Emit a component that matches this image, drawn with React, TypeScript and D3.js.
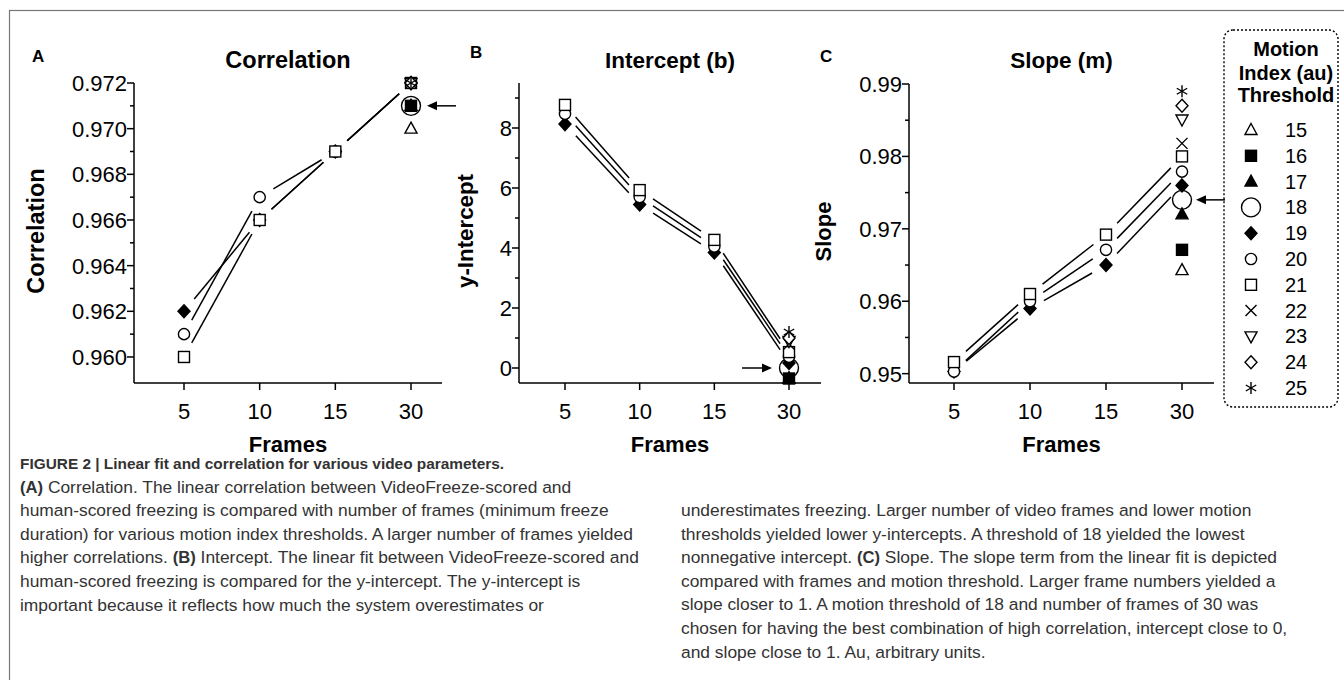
import React from 'react';
import * as d3 from 'd3';

// ---------- DATA ----------
const frames = ['5', '10', '15', '30'];
const thresholds = [15, 16, 17, 18, 19, 20, 21, 22, 23, 24, 25];
const lineThresholds = [19, 20, 21];
const legendTitle = ['Motion', 'Index (au)', 'Threshold'];

// Panel A: correlation (frames 5,10,15 for thresholds 19,20,21)
const corr19 = [0.962, 0.966, 0.969];
const corr20 = [0.961, 0.967, 0.969];
const corr21 = [0.960, 0.966, 0.969];
// frame 30, thresholds 15..25
const corrAt30 = [0.970, 0.971, 0.971, 0.971, 0.972, 0.972, 0.972, 0.972, 0.972, 0.972, 0.972];
const corrTicks = [0.960, 0.962, 0.964, 0.966, 0.968, 0.970, 0.972];

// Panel B: intercept
const int19 = [8.13, 5.45, 3.85];
const int20 = [8.47, 5.7, 4.05];
const int21 = [8.77, 5.93, 4.27];
const intAt30 = [-0.35, -0.35, -0.35, 0.0, 0.17, 0.37, 0.53, 0.8, 0.9, 1.0, 1.2];
const intTicks = [0, 2, 4, 6, 8];

// Panel C: slope
const slope19 = [0.9503, 0.959, 0.965];
const slope20 = [0.9503, 0.960, 0.9671];
const slope21 = [0.9516, 0.961, 0.9692];
const slopeAt30 = [0.9643, 0.9671, 0.972, 0.974, 0.976, 0.9779, 0.980, 0.9818, 0.9851, 0.987, 0.989];
const slopeTicks = [0.95, 0.96, 0.97, 0.98, 0.99];

const captionLeft: [string, boolean][][] = [
  [['FIGURE 2 | Linear fit and correlation for various video parameters.', true]],
  [['(A)', true], [' Correlation. The linear correlation between VideoFreeze-scored and', false]],
  [['human-scored freezing is compared with number of frames (minimum freeze', false]],
  [['duration) for various motion index thresholds. A larger number of frames yielded', false]],
  [['higher correlations. ', false], ['(B)', true], [' Intercept. The linear fit between VideoFreeze-scored and', false]],
  [['human-scored freezing is compared for the y-intercept. The y-intercept is', false]],
  [['important because it reflects how much the system overestimates or', false]],
];
const captionRight: [string, boolean][][] = [
  [['underestimates freezing. Larger number of video frames and lower motion', false]],
  [['thresholds yielded lower y-intercepts. A threshold of 18 yielded the lowest', false]],
  [['nonnegative intercept. ', false], ['(C)', true], [' Slope. The slope term from the linear fit is depicted', false]],
  [['compared with frames and motion threshold. Larger frame numbers yielded a', false]],
  [['slope closer to 1. A motion threshold of 18 and number of frames of 30 was', false]],
  [['chosen for having the best combination of high correlation, intercept close to 0,', false]],
  [['and slope close to 1. Au, arbitrary units.', false]],
];

// ---------- STYLE ----------
const FONT = '"Liberation Sans", Arial, Helvetica, sans-serif';
const drawOrder = [18, 15, 17, 16, 19, 20, 21, 22, 23, 24, 25];

function Marker({ t, x, y }: { t: number; x: number; y: number }) {
  const sw = 1.4;
  const s = 5.5;
  const common = { stroke: '#000', strokeWidth: sw };
  switch (t) {
    case 15:
      return <polygon points={`${x},${y - 6.5} ${x + 6},${y + 4.5} ${x - 6},${y + 4.5}`} fill="#fff" {...common} />;
    case 16:
      return <rect x={x - s} y={y - s} width={2 * s} height={2 * s} fill="#000" {...common} />;
    case 17:
      return <polygon points={`${x},${y - 6.5} ${x + 6},${y + 4.5} ${x - 6},${y + 4.5}`} fill="#000" {...common} />;
    case 18:
      return <circle cx={x} cy={y} r={9.5} fill="#fff" {...common} />;
    case 19:
      return <polygon points={`${x},${y - 6.5} ${x + 6},${y} ${x},${y + 6.5} ${x - 6},${y}`} fill="#000" {...common} />;
    case 20:
      return <circle cx={x} cy={y} r={5.6} fill="#fff" {...common} />;
    case 21:
      return <rect x={x - s} y={y - s} width={2 * s} height={2 * s} fill="#fff" {...common} />;
    case 22:
      return (
        <g {...common}>
          <line x1={x - s} y1={y - s} x2={x + s} y2={y + s} />
          <line x1={x - s} y1={y + s} x2={x + s} y2={y - s} />
        </g>
      );
    case 23:
      return <polygon points={`${x},${y + 6.5} ${x + 6},${y - 4.5} ${x - 6},${y - 4.5}`} fill="#fff" {...common} />;
    case 24:
      return <polygon points={`${x},${y - 6.5} ${x + 6},${y} ${x},${y + 6.5} ${x - 6},${y}`} fill="#fff" {...common} />;
    case 25:
      return (
        <g {...common}>
          <line x1={x} y1={y - 6} x2={x} y2={y + 6} />
          <line x1={x - 5.2} y1={y - 3} x2={x + 5.2} y2={y + 3} />
          <line x1={x - 5.2} y1={y + 3} x2={x + 5.2} y2={y - 3} />
        </g>
      );
    default:
      return null;
  }
}

type PanelCfg = {
  letter: string;
  title: string;
  titleSize: number;
  yTitle: string;
  yTitleSize: number;
  left: number;
  top: number;
  bottom: number;
  firstX: number;
  lastX: number;
  right: number;
  yDomain: [number, number];
  ticks: number[];
  minor: number[];
  fmt: (v: number) => string;
  series: number[][];
  at30: number[];
  arrow: { value: number; dir: 'left' | 'right'; offset: number };
  letterPos: [number, number];
  yTitleX: number;
};

function Panel({ cfg }: { cfg: PanelCfg }) {
  const x = d3.scalePoint<string>().domain(frames).range([cfg.firstX, cfg.lastX]);
  const y = d3.scaleLinear().domain(cfg.yDomain).range([cfg.bottom, cfg.top]);
  const gap = 16;
  const segs: { x1: number; y1: number; x2: number; y2: number }[] = [];
  cfg.series.forEach((vals, si) => {
    const t = lineThresholds[si];
    const full = [...vals, cfg.at30[thresholds.indexOf(t)]];
    for (let i = 0; i < full.length - 1; i++) {
      const ax = x(frames[i])!, ay = y(full[i]);
      const bx = x(frames[i + 1])!, by = y(full[i + 1]);
      const dx = bx - ax, dy = by - ay;
      const len = Math.hypot(dx, dy);
      const ux = dx / len, uy = dy / len;
      segs.push({ x1: ax + ux * gap, y1: ay + uy * gap, x2: bx - ux * gap, y2: by - uy * gap });
    }
  });
  const points: { t: number; f: string; v: number }[] = [];
  cfg.series.forEach((vals, si) => vals.forEach((v, i) => points.push({ t: lineThresholds[si], f: frames[i], v })));
  cfg.at30.forEach((v, i) => points.push({ t: thresholds[i], f: '30', v }));
  points.sort((a, b) => drawOrder.indexOf(a.t) - drawOrder.indexOf(b.t));

  const ax30 = x('30')!;
  const ay = y(cfg.arrow.value);
  let arrow;
  if (cfg.arrow.dir === 'left') {
    const tip = ax30 + cfg.arrow.offset;
    arrow = (
      <g>
        <line x1={tip + 6} y1={ay} x2={tip + 29} y2={ay} stroke="#000" strokeWidth={1.5} />
        <polygon points={`${tip},${ay} ${tip + 10},${ay - 4.5} ${tip + 10},${ay + 4.5}`} fill="#000" />
      </g>
    );
  } else {
    const tip = ax30 - cfg.arrow.offset;
    arrow = (
      <g>
        <line x1={tip - 30} y1={ay} x2={tip - 6} y2={ay} stroke="#000" strokeWidth={1.5} />
        <polygon points={`${tip},${ay} ${tip - 10},${ay - 4.5} ${tip - 10},${ay + 4.5}`} fill="#000" />
      </g>
    );
  }
  const midY = (cfg.top + cfg.bottom) / 2 - 2;
  const titleX = (cfg.left + cfg.right) / 2;
  return (
    <g fontFamily={FONT}>
      <text x={cfg.letterPos[0]} y={cfg.letterPos[1]} fontSize={17} fontWeight="bold">{cfg.letter}</text>
      <text x={titleX} y={68} fontSize={cfg.titleSize} fontWeight="bold" textAnchor="middle">{cfg.title}</text>
      <text transform={`translate(${cfg.yTitleX},${midY}) rotate(-90)`} fontSize={cfg.yTitleSize} fontWeight="bold" textAnchor="middle">{cfg.yTitle}</text>
      <text x={(cfg.left + cfg.right) / 2} y={452} fontSize={22} fontWeight="bold" textAnchor="middle">Frames</text>
      {/* axes */}
      <line x1={cfg.left} y1={cfg.top} x2={cfg.left} y2={cfg.bottom} stroke="#000" strokeWidth={1.5} />
      <line x1={cfg.left} y1={cfg.bottom} x2={cfg.right} y2={cfg.bottom} stroke="#000" strokeWidth={1.5} />
      {cfg.ticks.map((v) => (
        <g key={'t' + v}>
          <line x1={cfg.left - 7} y1={y(v)} x2={cfg.left} y2={y(v)} stroke="#000" strokeWidth={1.5} />
          <text x={cfg.left - 7} y={y(v) + 8} fontSize={22} textAnchor="end">{cfg.fmt(v)}</text>
        </g>
      ))}
      {cfg.minor.map((v) => (
        <line key={'m' + v} x1={cfg.left - 4} y1={y(v)} x2={cfg.left} y2={y(v)} stroke="#000" strokeWidth={1.5} />
      ))}
      {frames.map((f) => (
        <g key={'x' + f}>
          <line x1={x(f)!} y1={cfg.bottom} x2={x(f)!} y2={cfg.bottom + 7} stroke="#000" strokeWidth={1.5} />
          <text x={x(f)!} y={419} fontSize={22} textAnchor="middle">{f}</text>
        </g>
      ))}
      {segs.map((s, i) => (
        <line key={'s' + i} x1={s.x1} y1={s.y1} x2={s.x2} y2={s.y2} stroke="#000" strokeWidth={1.5} />
      ))}
      {points.map((p, i) => (
        <Marker key={'p' + i} t={p.t} x={x(p.f)!} y={y(p.v)} />
      ))}
      {arrow}
    </g>
  );
}

const panels: PanelCfg[] = [
  {
    letter: 'A', title: 'Correlation', titleSize: 23.5, yTitle: 'Correlation', yTitleSize: 23.5,
    left: 134, top: 83, bottom: 383, firstX: 184, lastX: 411, right: 442,
    yDomain: [0.95886, 0.972], ticks: corrTicks, minor: [0.961, 0.963, 0.965, 0.967, 0.969, 0.971],
    fmt: (v) => v.toFixed(3), series: [corr19, corr20, corr21], at30: corrAt30,
    arrow: { value: 0.971, dir: 'left', offset: 16 }, letterPos: [32, 62], yTitleX: 44,
  },
  {
    letter: 'B', title: 'Intercept (b)', titleSize: 22.5, yTitle: 'y-Intercept', yTitleSize: 22.3,
    left: 519, top: 83, bottom: 383, firstX: 565, lastX: 789, right: 821,
    yDomain: [-0.5, 9.5], ticks: intTicks, minor: [1, 3, 5, 7, 9],
    fmt: (v) => String(v), series: [int19, int20, int21], at30: intAt30,
    arrow: { value: 0, dir: 'right', offset: 17 }, letterPos: [470, 58], yTitleX: 473,
  },
  {
    letter: 'C', title: 'Slope (m)', titleSize: 22.5, yTitle: 'Slope', yTitleSize: 22,
    left: 909, top: 84, bottom: 383, firstX: 954, lastX: 1182, right: 1214,
    yDomain: [0.94871, 0.99], ticks: slopeTicks, minor: [0.955, 0.965, 0.975, 0.985],
    fmt: (v) => v.toFixed(2), series: [slope19, slope20, slope21], at30: slopeAt30,
    arrow: { value: 0.974, dir: 'left', offset: 14 }, letterPos: [820, 62], yTitleX: 831,
  },
];

function Legend() {
  const rowY = d3.scaleLinear().domain([0, thresholds.length - 1]).range([130, 388]);
  return (
    <g fontFamily={FONT}>
      <rect x={1224} y={30} width={114} height={377} rx={9} fill="none" stroke="#000" strokeWidth={1.4} strokeDasharray="2,2" />
      {legendTitle.map((s, i) => (
        <text key={s} x={1286} y={[56, 80, 102][i]} fontSize={20} fontWeight="bold" textAnchor="middle">{s}</text>
      ))}
      {thresholds.map((t, i) => (
        <g key={t}>
          <Marker t={t} x={1251} y={rowY(i)} />
          <text x={1285} y={rowY(i) + 7} fontSize={20}>{t}</text>
        </g>
      ))}
    </g>
  );
}

function Caption() {
  const lh = 23.6;
  const render = (lines: [string, boolean][][], x0: number, y0: number, first: boolean) =>
    lines.map((ln, i) => (
      <text key={i} x={x0} y={y0 + i * lh} fill="#333">
        {ln.map(([s, b], j) => (
          <tspan key={j} fontWeight={b ? 'bold' : 'normal'} fontSize={b ? (first && i === 0 ? 15.4 : 16.6) : 17.4}>{s}</tspan>
        ))}
      </text>
    ));
  return (
    <g fontFamily={FONT}>
      {render(captionLeft, 20, 469, true)}
      {render(captionRight, 681, 516, false)}
    </g>
  );
}

export default function App() {
  return (
    <svg width={1344} height={680} style={{ position: 'absolute', left: 0, top: 0, background: '#fff' }}>
      <rect x={0} y={0} width={1344} height={680} fill="#fff" />
      <rect x={9.5} y={10.5} width={1340} height={700} fill="none" stroke="#777" strokeWidth={1.2} />
      {panels.map((p) => (
        <Panel key={p.letter} cfg={p} />
      ))}
      <Legend />
      <Caption />
    </svg>
  );
}
